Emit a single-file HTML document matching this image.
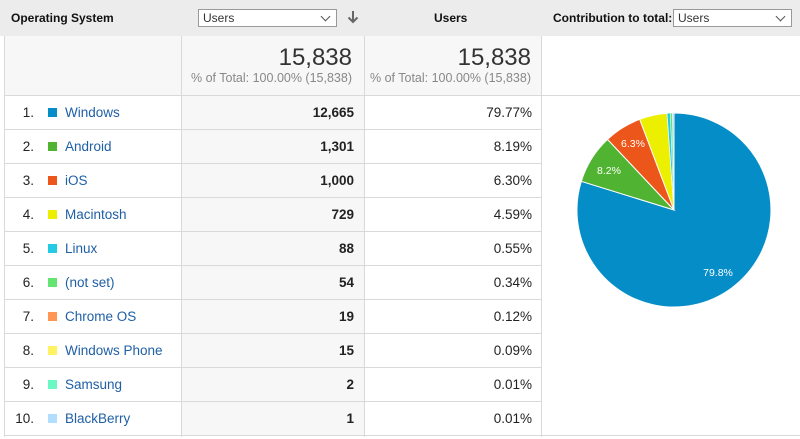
<!DOCTYPE html>
<html><head><meta charset="utf-8"><style>
*{margin:0;padding:0;box-sizing:border-box}
body{width:800px;height:439px;background:#fff;font-family:"Liberation Sans",Arial,sans-serif;font-size:13.5px;color:#222;position:relative;overflow:hidden}
.abs{position:absolute}
.hdr{left:0;top:0;width:800px;height:36px;background:#ececec}
.hb{font-weight:bold;font-size:12px;color:#111}
.sel{border:1px solid #999;background:#fff;height:18px;font-size:12px;padding-left:4px;line-height:16px;color:#333}
.sel:after{content:"";position:absolute;right:7px;top:3px;width:6px;height:6px;border-right:1px solid #555;border-bottom:1px solid #555;transform:rotate(45deg)}
.vl{width:1px;background:#d9d9d9}
.hl{height:1px;background:#d9d9d9}
.row{height:34px;line-height:34px}
.num{width:34px;text-align:right}
.sq{width:9px;height:9px}
.nm{color:#1f5fa6}
.v{text-align:right;font-weight:bold}
.p{text-align:right}
</style></head><body>
<div class="abs hdr"></div>
<div class="abs hb" style="left:11px;top:11px">Operating System</div>
<div class="abs sel" style="left:198px;top:9px;width:139px">Users</div>
<svg class="abs" style="left:347px;top:10px" width="12" height="14"><path d="M6,1 V12 M1.5,7.5 L6,12 L10.5,7.5" stroke="#666" stroke-width="2" fill="none"/></svg>
<div class="abs hb" style="left:434px;top:11px">Users</div>
<div class="abs hb" style="left:553px;top:11px">Contribution to total:</div>
<div class="abs sel" style="left:673px;top:9px;width:119px">Users</div>

<div class="abs" style="left:5px;top:36px;width:536px;height:59px;background:#f7f7f7"></div>
<div class="abs" style="left:181px;top:95px;width:183px;height:341px;background:#f7f7f7"></div>
<div class="abs" style="left:181px;top:44px;width:171px;text-align:right;font-size:24px;color:#333">15,838</div>
<div class="abs" style="left:181px;top:71px;width:171px;text-align:right;font-size:12.5px;color:#888">% of Total: 100.00% (15,838)</div>
<div class="abs" style="left:364px;top:44px;width:167px;text-align:right;font-size:24px;color:#333">15,838</div>
<div class="abs" style="left:364px;top:71px;width:167px;text-align:right;font-size:12.5px;color:#888">% of Total: 100.00% (15,838)</div>

<div class="abs vl" style="left:4px;top:36px;height:401px"></div>
<div class="abs vl" style="left:181px;top:36px;height:401px"></div>
<div class="abs vl" style="left:364px;top:36px;height:401px"></div>
<div class="abs vl" style="left:541px;top:36px;height:401px"></div>
<div class="abs hl" style="left:4px;top:95px;width:796px"></div>
<div class="abs hl" style="left:4px;top:129px;width:537px"></div>
<div class="abs hl" style="left:4px;top:163px;width:537px"></div>
<div class="abs hl" style="left:4px;top:197px;width:537px"></div>
<div class="abs hl" style="left:4px;top:231px;width:537px"></div>
<div class="abs hl" style="left:4px;top:265px;width:537px"></div>
<div class="abs hl" style="left:4px;top:299px;width:537px"></div>
<div class="abs hl" style="left:4px;top:333px;width:537px"></div>
<div class="abs hl" style="left:4px;top:367px;width:537px"></div>
<div class="abs hl" style="left:4px;top:401px;width:537px"></div>
<div class="abs hl" style="left:4px;top:435px;width:796px"></div>

<div class="abs" style="left:0;top:96px;width:541px">
<div class="row" style="position:relative"><span class="abs num" style="left:0">1.</span><span class="abs sq" style="left:48px;top:12px;background:#058dc7"></span><span class="abs nm" style="left:65px">Windows</span><span class="abs v" style="left:181px;width:173px">12,665</span><span class="abs p" style="left:364px;width:168px">79.77%</span></div>
<div class="row" style="position:relative"><span class="abs num" style="left:0">2.</span><span class="abs sq" style="left:48px;top:12px;background:#50b432"></span><span class="abs nm" style="left:65px">Android</span><span class="abs v" style="left:181px;width:173px">1,301</span><span class="abs p" style="left:364px;width:168px">8.19%</span></div>
<div class="row" style="position:relative"><span class="abs num" style="left:0">3.</span><span class="abs sq" style="left:48px;top:12px;background:#ed561b"></span><span class="abs nm" style="left:65px">iOS</span><span class="abs v" style="left:181px;width:173px">1,000</span><span class="abs p" style="left:364px;width:168px">6.30%</span></div>
<div class="row" style="position:relative"><span class="abs num" style="left:0">4.</span><span class="abs sq" style="left:48px;top:12px;background:#edef00"></span><span class="abs nm" style="left:65px">Macintosh</span><span class="abs v" style="left:181px;width:173px">729</span><span class="abs p" style="left:364px;width:168px">4.59%</span></div>
<div class="row" style="position:relative"><span class="abs num" style="left:0">5.</span><span class="abs sq" style="left:48px;top:12px;background:#24cbe5"></span><span class="abs nm" style="left:65px">Linux</span><span class="abs v" style="left:181px;width:173px">88</span><span class="abs p" style="left:364px;width:168px">0.55%</span></div>
<div class="row" style="position:relative"><span class="abs num" style="left:0">6.</span><span class="abs sq" style="left:48px;top:12px;background:#64e572"></span><span class="abs nm" style="left:65px">(not set)</span><span class="abs v" style="left:181px;width:173px">54</span><span class="abs p" style="left:364px;width:168px">0.34%</span></div>
<div class="row" style="position:relative"><span class="abs num" style="left:0">7.</span><span class="abs sq" style="left:48px;top:12px;background:#ff9655"></span><span class="abs nm" style="left:65px">Chrome OS</span><span class="abs v" style="left:181px;width:173px">19</span><span class="abs p" style="left:364px;width:168px">0.12%</span></div>
<div class="row" style="position:relative"><span class="abs num" style="left:0">8.</span><span class="abs sq" style="left:48px;top:12px;background:#fff263"></span><span class="abs nm" style="left:65px">Windows Phone</span><span class="abs v" style="left:181px;width:173px">15</span><span class="abs p" style="left:364px;width:168px">0.09%</span></div>
<div class="row" style="position:relative"><span class="abs num" style="left:0">9.</span><span class="abs sq" style="left:48px;top:12px;background:#6af9c4"></span><span class="abs nm" style="left:65px">Samsung</span><span class="abs v" style="left:181px;width:173px">2</span><span class="abs p" style="left:364px;width:168px">0.01%</span></div>
<div class="row" style="position:relative"><span class="abs num" style="left:0">10.</span><span class="abs sq" style="left:48px;top:12px;background:#b2deff"></span><span class="abs nm" style="left:65px">BlackBerry</span><span class="abs v" style="left:181px;width:173px">1</span><span class="abs p" style="left:364px;width:168px">0.01%</span></div>
</div>

<svg class="abs" style="left:0;top:0" width="800" height="439">
<g stroke="#fff" stroke-width="1">
<path d="M674,210 L674,113 A97,97 0 1 1 581.3,181.3 Z" fill="#058dc7"/>
<path d="M674,210 L581.3,181.3 A97,97 0 0 1 607.5,139.4 Z" fill="#50b432"/>
<path d="M674,210 L607.5,139.4 A97,97 0 0 1 639.7,119.3 Z" fill="#ed561b"/>
<path d="M674,210 L639.7,119.3 A97,97 0 0 1 667.1,113.3 Z" fill="#edef00"/>
<path d="M674,210 L667.1,113.3 A97,97 0 0 1 670.3,113.1 Z" fill="#24cbe5" stroke-width="0.5"/>
<path d="M674,210 L670.3,113.1 A97,97 0 0 1 672.5,113 Z" fill="#64e572" stroke-width="0.5"/>
<path d="M674,210 L672.5,113 A97,97 0 0 1 674,113 Z" fill="#b2deff" stroke-width="0.5"/>
</g>
<g fill="#fff" font-family="Liberation Sans,Arial,sans-serif" font-size="10.5" text-anchor="middle">
<text x="718" y="276">79.8%</text>
<text x="609" y="174">8.2%</text>
<text x="633" y="147">6.3%</text>
</g>
</svg>
</body></html>
